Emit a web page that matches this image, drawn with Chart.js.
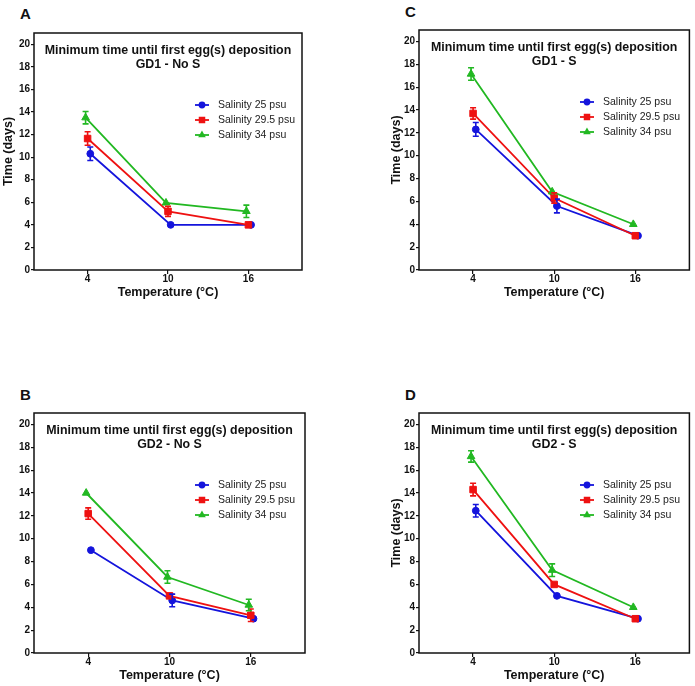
<!DOCTYPE html>
<html lang="en">
<head>
<meta charset="UTF-8">
<title>Minimum time until first egg(s) deposition</title>
<script src="https://cdn.jsdelivr.net/npm/chart.js"></script>
<style>
    body { margin: 0; background: #fff; font-family: 'Liberation Sans', Arial, sans-serif; }
    #page { position: relative; width: 695px; height: 686px; }
    .panel { position: absolute; }
    .letter { position: absolute; font-size: 15px; font-weight: bold; line-height: 15px; color: #111; }
</style>
</head>
<body>
<div id="page">
    <div class="letter" style="left:20px;top:6px">A</div>
    <div class="letter" style="left:405px;top:4px">C</div>
    <div class="letter" style="left:20px;top:387px">B</div>
    <div class="letter" style="left:405px;top:387px">D</div>

    <div class="panel" style="left:0;top:0"><canvas id="chartA" width="347" height="310"></canvas></div>
    <div class="panel" style="left:347px;top:0"><canvas id="chartC" width="348" height="310"></canvas></div>
    <div class="panel" style="left:0;top:340px"><canvas id="chartB" width="347" height="346"></canvas></div>
    <div class="panel" style="left:347px;top:340px"><canvas id="chartD" width="348" height="346"></canvas></div>
</div>

<script>
// shared
const temps = [4, 10, 16];
const yTicks = [0, 2, 4, 6, 8, 10, 12, 14, 16, 18, 20];
const seriesNames = ['Salinity 25 psu', 'Salinity 29.5 psu', 'Salinity 34 psu'];
const mainTitle = 'Minimum time until first egg(s) deposition';

// A - GD1 - No S
const a25 = [10.3, 4.0, 4.0];
const a25Err = [0.6, 0, 0];
const a295 = [11.65, 5.2, 4.0];
const a295Err = [0.6, 0.45, 0];
const a34 = [13.5, 5.95, 5.2];
const a34Err = [0.55, 0, 0.55];

// C - GD1 - S
const c25 = [12.3, 5.6, 3.0];
const c25Err = [0.6, 0.6, 0];
const c295 = [13.7, 6.3, 3.0];
const c295Err = [0.5, 0.45, 0];
const c34 = [17.15, 6.85, 4.0];
const c34Err = [0.55, 0, 0];

// B - GD2 - No S
const b25 = [9.0, 4.6, 3.0];
const b25Err = [0, 0.55, 0];
const b295 = [12.2, 5.0, 3.3];
const b295Err = [0.5, 0, 0.55];
const b34 = [14.0, 6.65, 4.2];
const b34Err = [0, 0.55, 0.5];

// D - GD2 - S
const d25 = [12.45, 5.0, 3.0];
const d25Err = [0.55, 0, 0];
const d295 = [14.3, 6.0, 3.0];
const d295Err = [0.55, 0, 0];
const d34 = [17.2, 7.25, 4.0];
const d34Err = [0.5, 0.55, 0];

const FONT = "'Liberation Sans', Arial, sans-serif";
Chart.defaults.font.family = FONT;
Chart.defaults.color = '#111';

// blue / red / green look, small x shift so the points don't sit on each other
const styles = [
    { color: '#1414dc', point: 'circle', radius: 3.4, dodge: 0.2, order: 3 },
    { color: '#ee1111', point: 'rect', radius: 4.6, dodge: 0, order: 2 },
    { color: '#22b822', point: 'triangle', radius: 4.4, dodge: -0.15, order: 1 }
];

function drawMarker(ctx, style, x, y) {
    ctx.fillStyle = style.color;
    ctx.beginPath();
    if (style.point === 'circle') {
        ctx.arc(x, y, style.radius, 0, Math.PI * 2);
    } else if (style.point === 'rect') {
        const s = style.radius * Math.SQRT1_2;
        ctx.rect(x - s, y - s, 2 * s, 2 * s);
    } else {
        const r = style.radius;
        ctx.moveTo(x, y - r);
        ctx.lineTo(x + r * 0.866, y + r * 0.5);
        ctx.lineTo(x - r * 0.866, y + r * 0.5);
        ctx.closePath();
    }
    ctx.fill();
}

// error bars, frame, title inside plot and legend
const panelDecor = {
    id: 'panelDecor',
    afterDatasetsDraw(chart, args, opts) {
        const { ctx, chartArea: a } = chart;
        const x = chart.scales.x, y = chart.scales.y;
        ctx.save();

        chart.data.datasets.forEach((ds, i) => {
            const errs = opts.errors[i];
            ctx.strokeStyle = styles[i].color;
            ctx.lineWidth = 1.6;
            ds.data.forEach((p, j) => {
                if (!errs[j]) return;
                const px = x.getPixelForValue(p.x);
                const top = y.getPixelForValue(p.y + errs[j]);
                const bot = y.getPixelForValue(p.y - errs[j]);
                ctx.beginPath();
                ctx.moveTo(px, top); ctx.lineTo(px, bot);
                ctx.moveTo(px - 3, top); ctx.lineTo(px + 3, top);
                ctx.moveTo(px - 3, bot); ctx.lineTo(px + 3, bot);
                ctx.stroke();
            });
        });

        ctx.strokeStyle = '#111';
        ctx.lineWidth = 1.5;
        ctx.strokeRect(a.left, a.top, a.right - a.left, a.bottom - a.top);

        ctx.fillStyle = '#111';
        ctx.font = 'bold 12.4px ' + FONT;
        ctx.textAlign = 'center';
        ctx.textBaseline = 'middle';
        const cx = (a.left + a.right) / 2;
        ctx.fillText(mainTitle, cx, a.top + 18);
        ctx.fillText(opts.subtitle, cx, a.top + 32);

        ctx.font = '10.5px ' + FONT;
        ctx.textAlign = 'left';
        seriesNames.forEach((name, i) => {
            const ly = a.top + 72 + 15 * i;
            ctx.strokeStyle = styles[i].color;
            ctx.lineWidth = 1.8;
            ctx.beginPath();
            ctx.moveTo(a.left + 161, ly);
            ctx.lineTo(a.left + 175, ly);
            ctx.stroke();
            drawMarker(ctx, styles[i], a.left + 168, ly);
            ctx.fillStyle = '#222';
            ctx.fillText(name, a.left + 184, ly);
        });
        ctx.restore();
    }
};

function makePanel(id, subtitle, series, errors, lay) {
    const datasets = series.map((vals, i) => ({
        label: seriesNames[i],
        data: temps.map((t, j) => ({ x: t + styles[i].dodge, y: vals[j] })),
        showLine: true,
        borderColor: styles[i].color,
        backgroundColor: styles[i].color,
        borderWidth: 1.8,
        pointStyle: styles[i].point,
        pointRadius: styles[i].radius,
        pointBorderWidth: 1,
        order: styles[i].order
    }));

    new Chart(document.getElementById(id), {
        type: 'scatter',
        data: { datasets: datasets },
        options: {
            responsive: false,
            animation: false,
            layout: { padding: lay.pad },
            plugins: {
                legend: { display: false },
                tooltip: { enabled: false },
                panelDecor: { subtitle: subtitle, errors: errors }
            },
            scales: {
                x: {
                    type: 'linear',
                    min: 0,
                    max: 20,
                    afterBuildTicks: s => { s.ticks = temps.map(v => ({ value: v })); },
                    afterFit: s => { s.height = lay.xHeight; },
                    ticks: { font: { size: 10, weight: 'bold', lineHeight: 0.9 }, padding: 0.5, color: '#111' },
                    grid: { drawOnChartArea: false, drawTicks: true, tickLength: 4, color: '#111', lineWidth: 1.2 },
                    border: { display: false },
                    title: {
                        display: true,
                        text: 'Temperature (°C)',
                        font: { size: 12.5, weight: 'bold' },
                        color: '#111',
                        padding: { top: 0, bottom: lay.xTitlePad }
                    }
                },
                y: {
                    min: 0,
                    max: 21,
                    afterBuildTicks: s => { s.ticks = yTicks.map(v => ({ value: v })); },
                    afterFit: s => { s.width = lay.yWidth; },
                    ticks: { font: { size: 10, weight: 'bold' }, padding: 1, color: '#111' },
                    grid: { drawOnChartArea: false, drawTicks: true, tickLength: 3, color: '#111', lineWidth: 1.2 },
                    border: { display: false },
                    title: {
                        display: lay.yTitle,
                        text: 'Time (days)',
                        font: { size: 12.5, weight: 'bold' },
                        color: '#111',
                        padding: { top: lay.yTitlePad || 0, bottom: 0 }
                    }
                }
            }
        },
        plugins: [panelDecor]
    });
}

makePanel('chartA', 'GD1 - No S', [a25, a295, a34], [a25Err, a295Err, a34Err],
    { pad: { left: 0, top: 33, right: 45, bottom: 0 }, yWidth: 34, xHeight: 40, yTitle: true, yTitlePad: 1.5, xTitlePad: 9.5 });
makePanel('chartC', 'GD1 - S', [c25, c295, c34], [c25Err, c295Err, c34Err],
    { pad: { left: 40, top: 30, right: 4, bottom: 0 }, yWidth: 32, xHeight: 40, yTitle: true, yTitlePad: 2.5, xTitlePad: 9.5 });
makePanel('chartB', 'GD2 - No S', [b25, b295, b34], [b25Err, b295Err, b34Err],
    { pad: { left: 0, top: 73, right: 42, bottom: 0 }, yWidth: 34, xHeight: 33, yTitle: false, xTitlePad: 2.5 });
makePanel('chartD', 'GD2 - S', [d25, d295, d34], [d25Err, d295Err, d34Err],
    { pad: { left: 40, top: 73, right: 4, bottom: 0 }, yWidth: 32, xHeight: 33, yTitle: true, yTitlePad: 2.5, xTitlePad: 2.5 });
</script>
</body>
</html>
